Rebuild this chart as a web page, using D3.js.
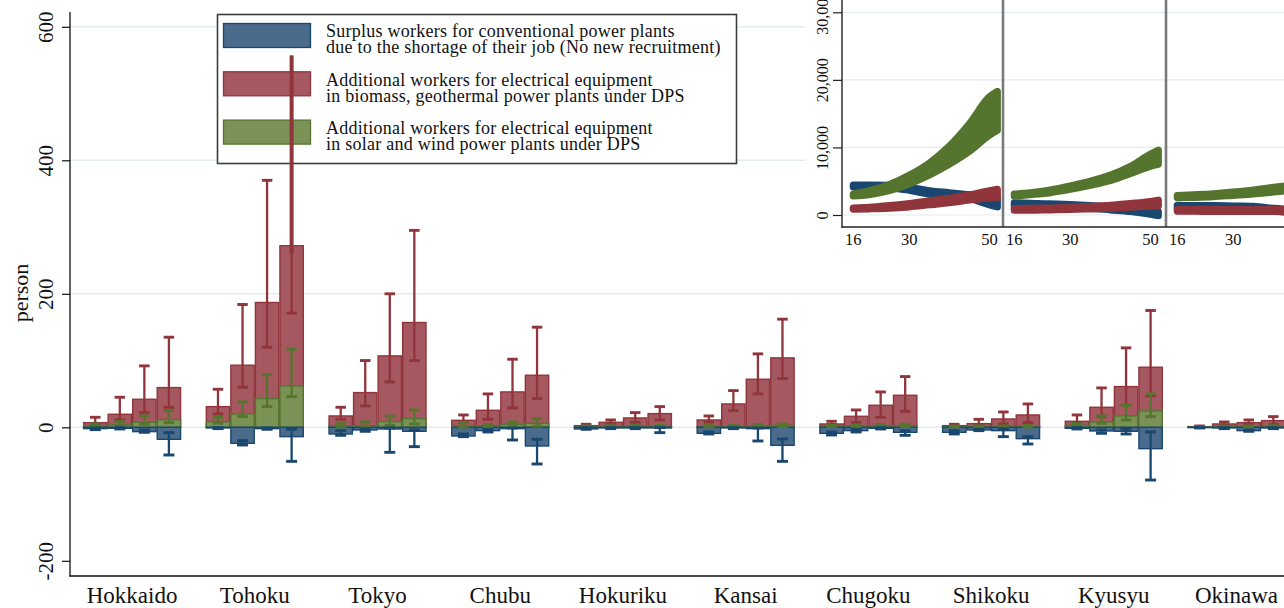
<!DOCTYPE html>
<html><head><meta charset="utf-8">
<script src="https://cdn.jsdelivr.net/npm/d3@7"></script>
<style>html,body{margin:0;padding:0;background:#fff;overflow:hidden}</style>
</head><body><svg id="c" width="1284" height="608"></svg>
<script>
// ---------------- DATA ----------------
const regions = ["Hokkaido","Tohoku","Tokyo","Chubu","Hokuriku","Kansai","Chugoku","Shikoku","Kyusyu","Okinawa"];
const periods = ["2020","2030","2040","2050"];
const yTicks = [-200, 0, 200, 400, 600];

// Additional workers, biomass / geothermal (red)
const redVal = [[7,19.5,42,59.5],[31,93,187,272],[17,52,107,157],[10.5,25.5,53,78],[2.5,7.5,14,20.5],
                [11,35,72,104],[5,16.5,33,48],[2.5,5.5,12.5,18.5],[9,30,61,90],[1,5,7,10]];
const redLo  = [[4,11,22,30],[20,60,120,171],[12,32,68,100],[7,12,29,43],[1.5,4,7.5,11],
                [8,25,50,73],[4,7,15,24],[1.5,3,5,7],[6,16,33,47],[0.5,3,4,4]];
const redHi  = [[15,45,92,135],[57,184,370,557],[30,100,200,295],[18.5,50,102,150],[4.5,11,22,31],
                [17,55,110,162],[9,26,53,76],[4.5,12,23,35],[18.5,59,119,175],[2,8,11,16]];
// Additional workers, solar / wind (green)
const greenVal = [[2.5,3.5,7.5,11.5],[8.5,20,43,62],[2.5,2.5,8.5,13],[2.5,2.5,4.5,6],[1,1.5,1.5,1.5],
                  [1.5,1.5,2,3],[2,2,2.5,2.5],[1,1,1,1.5],[3,8,17,24.5],[0.5,1,1,1.5]];
const greenLo  = [[1,1,5,7],[6,16,31,46],[0.5,0.5,3,5],[0.5,0.5,1,2],[0.5,0.5,0.5,0.5],
                  [0.5,0.5,0.5,1],[1,1,1,1],[0.5,0.5,0.5,0.5],[1,6,11,16],[0,0.5,0.5,0.5]];
const greenHi  = [[5,9,17,25],[15,38,79,117],[6,8,17,26],[7,4,8,13],[2,2.5,3,3],
                  [2.5,3,4,5],[3,3.5,4,4.5],[2,2,2,2.5],[5.5,17,33,50],[1,2,2,2.5]];
// Surplus workers, conventional plants (blue)
const blueVal = [[-2,-1.5,-6.5,-18],[-1,-24,-2,-14],[-10,-4,-2.5,-6],[-13,-5,-2,-28],[-2.5,-1,-1,-1],
                 [-9,-1,-2,-27],[-9,-5,-1.5,-7.5],[-7.5,-4,-5,-17],[-1.5,-5.5,-6,-32],[-0.5,-1,-5,-1]];
const blueLo  = [[-3.5,-2.5,-7.5,-41.5],[-2,-26.5,-3,-51],[-12,-6,-37.5,-29],[-14,-7,-19,-55],[-3,-2,-2,-8],
                 [-10,-2,-20.5,-51],[-11.5,-7,-2.5,-12],[-10,-5,-14,-25],[-2.5,-9,-10,-79],[-1,-2,-6,-2]];
const blueHi  = [[-1,-0.5,-4,-8],[-0.5,-20,-1,-3],[-5,-2,-1,-4],[-10,-3,-1,-18],[-0.5,-0.5,-0.5,-0.5],
                 [-7,-0.5,-1,-17.5],[-7,-3,-0.5,-5],[-5,-3,-2,-14],[-0.5,-4,-3,-7],[0,-0.5,-4,-0.5]];

const legendLabels = [
  ["Surplus workers for conventional power plants","due to the shortage of their job (No new recruitment)"],
  ["Additional workers for electrical equipment","in biomass, geothermal power plants under DPS"],
  ["Additional workers for electrical equipment","in solar and wind power plants under DPS"]
];

// Inset (three panels, years 2016-2052)
const insetYears = [16,20,25,30,35,40,45,50,52];
const insetXTicks = [16,30,50];
const insetYTicks = [0,10000,20000,30000];
const insetGreenLo = [[2800,3000,3600,4600,5900,7500,9400,11800,12500],
                      [2800,3000,3300,3800,4400,5100,6100,7200,7500],
                      [2550,2600,2700,2900,3100,3400,3700,4200,4400]];
const insetGreenHi = [[3100,3600,4500,5900,7700,10200,13500,17500,18300],
                      [3100,3300,3700,4300,5000,5900,7200,9000,9600],
                      [2900,3000,3150,3400,3700,4100,4500,5200,5500]];
const insetBlueLo  = [[4150,4150,4050,3650,3100,2900,2450,1500,1200],
                      [1350,1350,1250,1150,1000,750,500,100,-100],
                      [1000,1000,950,900,850,550,300,200,150]];
const insetBlueHi  = [[4450,4450,4400,4100,3600,3300,3000,2700,2400],
                      [1800,1750,1650,1550,1400,1200,1000,700,500],
                      [1450,1400,1400,1350,1300,1000,800,600,500]];
const insetRedLo   = [[850,900,1000,1200,1500,1800,2200,2500,2600],
                      [700,700,750,800,900,1000,1150,1300,1350],
                      [550,540,530,520,520,510,500,490,480]];
const insetRedHi   = [[1050,1150,1400,1700,2100,2500,3000,3600,3800],
                      [950,1000,1050,1150,1300,1450,1700,2000,2200],
                      [850,840,830,830,820,820,810,800,800]];

// ---------------- STYLE ----------------
const FONT = "'Liberation Serif','Times New Roman',serif";
const C = {
  blueFill:"#4a6b8c", blueLine:"#1a476f",
  redFill:"#a5585f",  redLine:"#90353b",
  greenFill:"#7a9255", greenLine:"#55752f",
  grid:"#e3ecef"
};
const W = 1284;

const svg = d3.select("#c");
svg.append("rect").attr("width",W).attr("height",608).attr("fill","#fff");

const x0 = d3.scaleBand().domain(regions).range([70, 1298.6]).paddingInner(0.2).paddingOuter(0.106);
const x1 = d3.scaleBand().domain(periods).range([0, x0.bandwidth()]);
const y = d3.scaleLinear().domain([-200, 600]).range([560.8, 26.8]);

// gridlines
svg.append("g").selectAll("line").data([0,200,400,600]).join("line")
  .attr("x1",70).attr("x2",W).attr("y1",d=>y(d)).attr("y2",d=>y(d))
  .attr("stroke",C.grid).attr("stroke-width",1.6);

// legend (drawn below the bars, as in the reference)
const lg = svg.append("g");
lg.append("rect").attr("x",217.5).attr("y",14.5).attr("width",519).attr("height",149)
  .attr("fill","#fff").attr("stroke","#3c3c3c").attr("stroke-width",1.6);
const keyFill = [C.blueFill, C.redFill, C.greenFill];
const keyLine = [C.blueLine, C.redLine, C.greenLine];
legendLabels.forEach((lines,i)=>{
  const ky = 23.5 + i*48.3;
  lg.append("rect").attr("x",223.5).attr("y",ky).attr("width",87).attr("height",24)
    .attr("fill",keyFill[i]).attr("stroke",keyLine[i]).attr("stroke-width",1.3);
  const t = lg.append("text").attr("x",326).attr("y",ky+13.8)
    .attr("font-family",FONT).attr("font-size",18).attr("letter-spacing",0.25).attr("fill","#111");
  lines.forEach((s,j)=>{
    t.append("tspan").attr("x",326).attr("dy", j===0 ? 0 : 16).text(s);
  });
});

// bars
const flat = [];
regions.forEach((r,i)=>periods.forEach((p,j)=>flat.push({r,p,i,j})));
const bx = d=>x0(d.r)+x1(d.p);
const bw = x1.bandwidth();
const gBars = svg.append("g");
function bars(valArr, fill, line){
  gBars.append("g").selectAll("rect").data(flat).join("rect")
    .attr("x",d=>bx(d)+0.6).attr("width",bw-1.2)
    .attr("y",d=>Math.min(y(0),y(valArr[d.i][d.j])))
    .attr("height",d=>Math.abs(y(valArr[d.i][d.j])-y(0)))
    .attr("fill",fill).attr("stroke",line).attr("stroke-width",1.4);
}
bars(redVal, C.redFill, C.redLine);
bars(greenVal, C.greenFill, C.greenLine);
bars(blueVal, C.blueFill, C.blueLine);

// error bars
function errs(lo, hi, val, color, capW, sw){
  const g = svg.append("g").attr("stroke",color).attr("fill","none");
  flat.forEach(d=>{
    const cx = bx(d)+bw/2, yl = y(lo[d.i][d.j]), yh = y(hi[d.i][d.j]);
    const overflow = hi[d.i][d.j] > 500;
    g.append("line").attr("x1",cx).attr("x2",cx).attr("y1",yl).attr("y2",yh).attr("stroke-width",sw);
    g.append("line").attr("x1",cx-capW/2).attr("x2",cx+capW/2).attr("y1",yl).attr("y2",yl).attr("stroke-width",sw+0.6);
    if(!overflow){
      g.append("line").attr("x1",cx-capW/2).attr("x2",cx+capW/2).attr("y1",yh).attr("y2",yh).attr("stroke-width",sw+0.6);
    } else {
      g.append("line").attr("x1",cx).attr("x2",cx).attr("y1",yh).attr("y2",y(val[d.i][d.j])+8).attr("stroke-width",4);
    }
  });
}
errs(redLo, redHi, redVal, C.redLine, 10.5, 2.3);
errs(greenLo, greenHi, greenVal, C.greenLine, 10.5, 2.3);
errs(blueLo, blueHi, blueVal, C.blueLine, 11, 2.3);

// y axis
const ya = svg.append("g").attr("transform","translate(70,0)")
  .call(d3.axisLeft(y).tickValues(yTicks).tickSize(8).tickFormat(d=>String(d)));
ya.select(".domain").remove();
ya.selectAll(".tick line").attr("stroke","#111").attr("stroke-width",1.2);
ya.selectAll(".tick text").attr("x",null).attr("dy",null).attr("text-anchor","middle")
  .attr("transform","translate(-17,0) rotate(-90)")
  .attr("font-family",FONT).attr("font-size",21).attr("fill","#111");
svg.append("line").attr("x1",70).attr("x2",70).attr("y1",12).attr("y2",576.5)
  .attr("stroke","#111").attr("stroke-width",1.3);
svg.append("text").attr("transform","translate(28,293) rotate(-90)").attr("text-anchor","middle")
  .attr("font-family",FONT).attr("font-size",22).attr("fill","#111").text("person");

// x axis
const xa = svg.append("g").attr("transform","translate(0,576)")
  .call(d3.axisBottom(x0).tickSize(0));
xa.select(".domain").remove();
xa.selectAll(".tick text").attr("dy",null).attr("y",27)
  .attr("font-family",FONT).attr("font-size",23).attr("fill","#111");
svg.append("line").attr("x1",69.4).attr("x2",W).attr("y1",576).attr("y2",576)
  .attr("stroke","#111").attr("stroke-width",1.3);

// ---------------- INSET ----------------
const ig = svg.append("g");
ig.append("rect").attr("x",806).attr("y",0).attr("width",478).attr("height",256).attr("fill","#fff");
const yi = d3.scaleLinear().domain([0,30000]).range([215,12.3]);
ig.append("g").selectAll("line").data(insetYTicks).join("line")
  .attr("x1",842).attr("x2",W).attr("y1",d=>yi(d)).attr("y2",d=>yi(d))
  .attr("stroke",C.grid).attr("stroke-width",1.2);
const panelLeft = [842, 1003, 1166];
const insetSeries = [
  {lo:insetBlueLo, hi:insetBlueHi, c:C.blueLine},
  {lo:insetGreenLo, hi:insetGreenHi, c:C.greenLine},
  {lo:insetRedLo, hi:insetRedHi, c:C.redLine}
];
const defs = svg.append("defs");
panelLeft.forEach((L,k)=>{
  const xs = d3.scaleLinear().domain([13.2,53.4]).range([L, L+161]);
  const cid = "clipP"+k;
  defs.append("clipPath").attr("id",cid).append("rect")
    .attr("x",L).attr("y",0).attr("width",161).attr("height",227);
  const pg = ig.append("g").attr("clip-path",`url(#${cid})`);
  insetSeries.forEach(s=>{
    const pts = insetYears.map((yr,t)=>({yr, lo:s.lo[k][t], hi:s.hi[k][t]}));
    const area = d3.area().x(d=>xs(d.yr)).y0(d=>yi(d.lo)).y1(d=>yi(d.hi)).curve(d3.curveMonotoneX);
    pg.append("path").attr("d",area(pts)).attr("fill",s.c).attr("stroke",s.c)
      .attr("stroke-width",7).attr("stroke-linejoin","round").attr("stroke-linecap","round");
  });
  ig.append("g").selectAll("text").data(insetXTicks.filter(d=>xs(d)+8 < W)).join("text")
    .attr("x",d=>xs(d)).attr("y",245).attr("text-anchor","middle")
    .attr("font-family",FONT).attr("font-size",16.5).attr("fill","#111").text(d=>d);
});
// panel separators
ig.selectAll(".sep").data([1003,1166]).join("line")
  .attr("x1",d=>d).attr("x2",d=>d).attr("y1",0).attr("y2",227)
  .attr("stroke","#7a7a7a").attr("stroke-width",2.6);
// inset axes
const iya = ig.append("g").attr("transform","translate(842,0)")
  .call(d3.axisLeft(yi).tickValues(insetYTicks).tickSize(9).tickFormat(d3.format(",")));
iya.select(".domain").remove();
iya.selectAll(".tick line").attr("stroke","#222").attr("stroke-width",1.2);
iya.selectAll(".tick text").attr("x",null).attr("dy",null).attr("text-anchor","middle")
  .attr("transform","translate(-14,0) rotate(-90)")
  .attr("font-family",FONT).attr("font-size",16).attr("fill","#111");
ig.append("line").attr("x1",842).attr("x2",842).attr("y1",0).attr("y2",227.5).attr("stroke","#222").attr("stroke-width",1.4);
ig.append("line").attr("x1",841.3).attr("x2",W).attr("y1",227).attr("y2",227).attr("stroke","#222").attr("stroke-width",1.4);
</script></body></html>
